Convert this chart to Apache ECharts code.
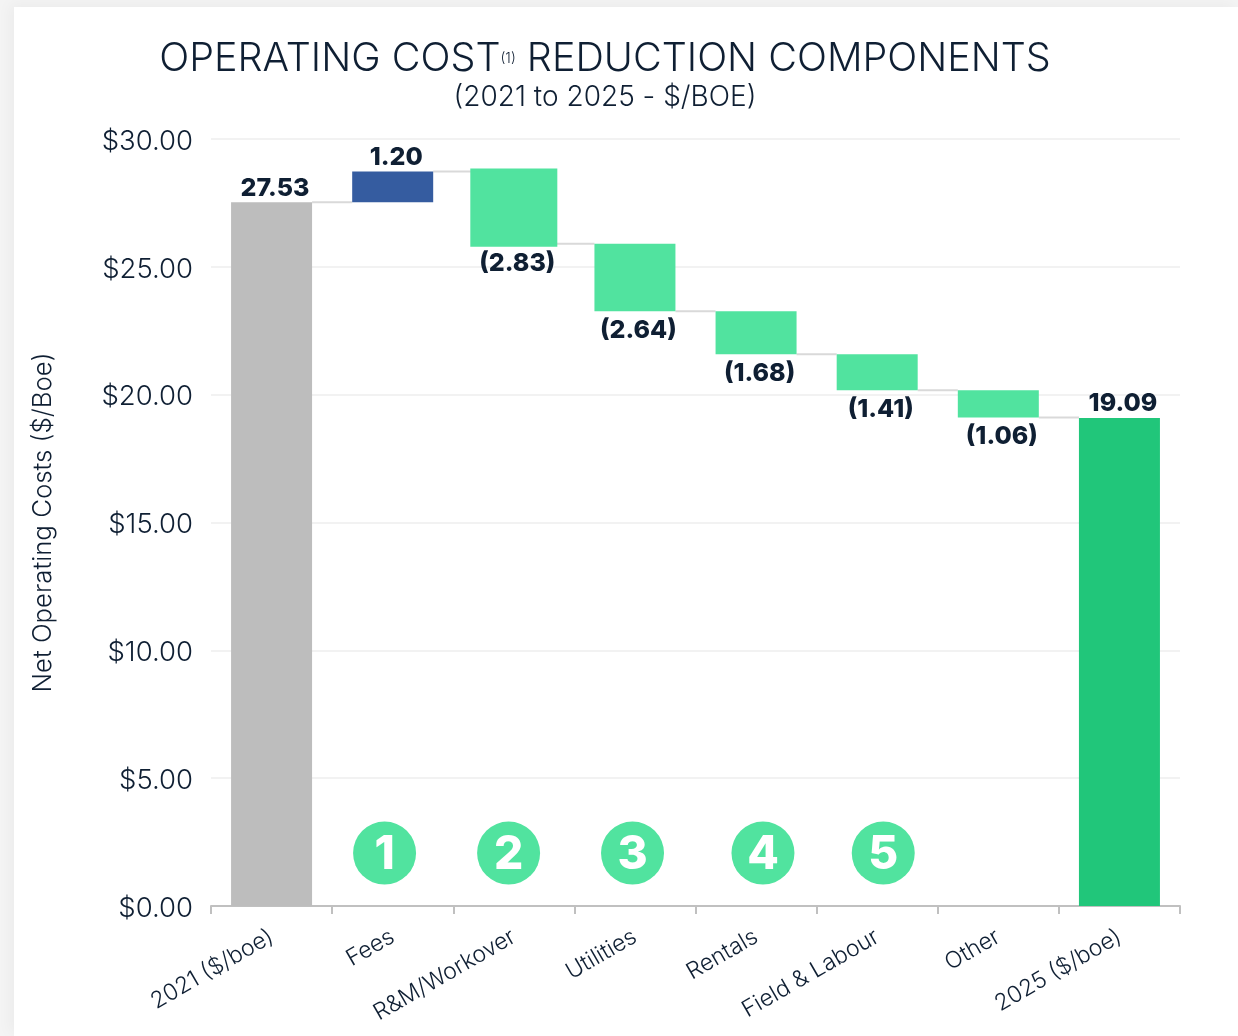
<!DOCTYPE html>
<html>
<head>
<meta charset="utf-8">
<style>
html,body{margin:0;padding:0;width:1238px;height:1036px;overflow:hidden;background:#f4f4f4;}
#card{position:absolute;left:14px;top:7px;width:1224px;height:1029px;background:#fff;box-shadow:-4px -3px 14px rgba(0,0,0,0.04);}
#chart{position:absolute;left:0;top:0;width:1238px;height:1036px;}
</style>
<script src="https://cdn.jsdelivr.net/npm/echarts@6/dist/echarts.min.js"></script>
</head>
<body>
<div id="card"></div>
<div id="chart"></div>
<script>
const categories = ['2021 ($/boe)','Fees','R&M/Workover','Utilities','Rentals','Field & Labour','Other','2025 ($/boe)'];
const barBase = [0,27.53,25.90,23.26,21.58,20.17,19.11,0];
const barValue = [27.53,1.20,2.83,2.64,1.68,1.41,1.06,19.09];
const barLabels = ['27.53','1.20','(2.83)','(2.64)','(1.68)','(1.41)','(1.06)','19.09'];
const labelBelow = [false,false,true,true,true,true,true,false];
const barColors = ['#bdbdbd','#355ca0','#51e39f','#51e39f','#51e39f','#51e39f','#51e39f','#21c67a'];
const connectorLevels = [27.53,28.73,25.90,23.26,21.58,20.17,19.11];
const badgeX = [1.433,2.457,3.48,4.557,5.55];
const badgeY = [2.07,2.07,2.07,2.07,2.07];
const badgeText = ['1','2','3','4','5'];
const yTicks = {min:0,max:30,interval:5};

const FONT = 'Inter, "Open Sans", sans-serif';
const INK = '#0f1f33';
const BAR_W = 81;
const OUTLINED = 'R&M/Workover';
const OUTLINE = 3;
const chart = echarts.init(document.getElementById('chart'),null,{renderer:'canvas'});
const outlinedIndex = categories.indexOf(OUTLINED);

chart.setOption({
  animation:false,
  backgroundColor:'transparent',
  textStyle:{fontFamily:FONT},
  title:[
    {left:600,top:34,textAlign:'center',
     text:'OPERATING COST{s|(1)} REDUCTION COMPONENTS',
     textStyle:{fontFamily:FONT,fontSize:39.5,fontWeight:300,color:INK,
       rich:{s:{fontFamily:FONT,fontSize:14,color:INK,fontWeight:300}}}},
    {left:600,top:79,textAlign:'center',text:'(2021 to 2025 - $/BOE)',
     textStyle:{fontFamily:FONT,fontSize:28,fontWeight:300,color:INK}}
  ],
  grid:{left:211,right:58,top:139,bottom:130,containLabel:false},
  xAxis:[
    {type:'category',data:categories,
     axisLine:{lineStyle:{color:'#c0c0c0',width:2}},
     axisTick:{show:true,alignWithLabel:false,length:8,lineStyle:{color:'#c0c0c0',width:2}},
     axisLabel:{interval:0,rotate:30,margin:29,fontFamily:FONT,fontSize:23,fontWeight:300,color:INK}},
    {type:'value',min:0,max:8,show:false}
  ],
  yAxis:{type:'value',min:yTicks.min,max:yTicks.max,interval:yTicks.interval,
    name:'Net Operating Costs ($/Boe)',nameLocation:'middle',nameGap:155,nameRotate:90,
    nameTextStyle:{fontFamily:FONT,fontSize:25.8,fontWeight:300,color:INK},
    axisLine:{show:false},axisTick:{show:false},
    splitLine:{lineStyle:{color:'#f2f2f2',width:2}},
    axisLabel:{margin:18,formatter:v=>'{a|$'+v.toFixed(2)+'}',
      rich:{a:{fontFamily:FONT,fontSize:27.5,fontWeight:300,color:INK,padding:[5,0,0,0]}}}},
  series:[
    {type:'custom',coordinateSystem:'cartesian2d',silent:true,z:1,
     renderItem:function(params,api){
       const i=api.value(0), level=api.value(1);
       const p=api.coord([i,level]);
       const band=api.size([1,0])[0];
       return {type:'line',
         shape:{x1:p[0]+BAR_W/2,y1:p[1],x2:p[0]+band-BAR_W/2,y2:p[1]},
         style:{stroke:'#d9d9d9',lineWidth:2}};
     },
     encode:{x:0,y:1},
     data:connectorLevels.map((v,i)=>[i,v])},
    {type:'custom',coordinateSystem:'cartesian2d',silent:true,z:1.5,
     renderItem:function(params,api){
       const i=api.value(0);
       const top=api.coord([i,api.value(1)]);
       const bottom=api.coord([i,api.value(2)]);
       return {type:'rect',
         shape:{x:top[0]-BAR_W/2-OUTLINE,y:top[1]-OUTLINE,
                width:BAR_W+2*OUTLINE,height:bottom[1]-top[1]+2*OUTLINE},
         style:{fill:barColors[i]}};
     },
     encode:{x:0,y:1},
     data:[[outlinedIndex,barBase[outlinedIndex]+barValue[outlinedIndex],barBase[outlinedIndex]]]},
    {type:'bar',stack:'w',barWidth:BAR_W,silent:true,
     itemStyle:{color:'transparent'},data:barBase},
    {type:'bar',stack:'w',barWidth:BAR_W,
     data:barValue.map((v,i)=>({
       value:v,
       itemStyle:{color:barColors[i]},
       label:{show:true,position:labelBelow[i]?'bottom':'top',
         distance:labelBelow[i]?7:1.5,offset:[3.5,0],
         formatter:barLabels[i],fontFamily:FONT,fontSize:25,fontWeight:800,color:INK}
     }))},
    {type:'scatter',xAxisIndex:1,symbol:'circle',symbolSize:63,
     itemStyle:{color:'#51e39f',opacity:1},
     label:{show:true,position:'inside',offset:[0,2],fontFamily:FONT,fontSize:46,fontWeight:800,color:'#ffffff',
       formatter:p=>badgeText[p.dataIndex]},
     data:badgeX.map((x,i)=>[x,badgeY[i]])}
  ]
});
</script>
</body>
</html>
